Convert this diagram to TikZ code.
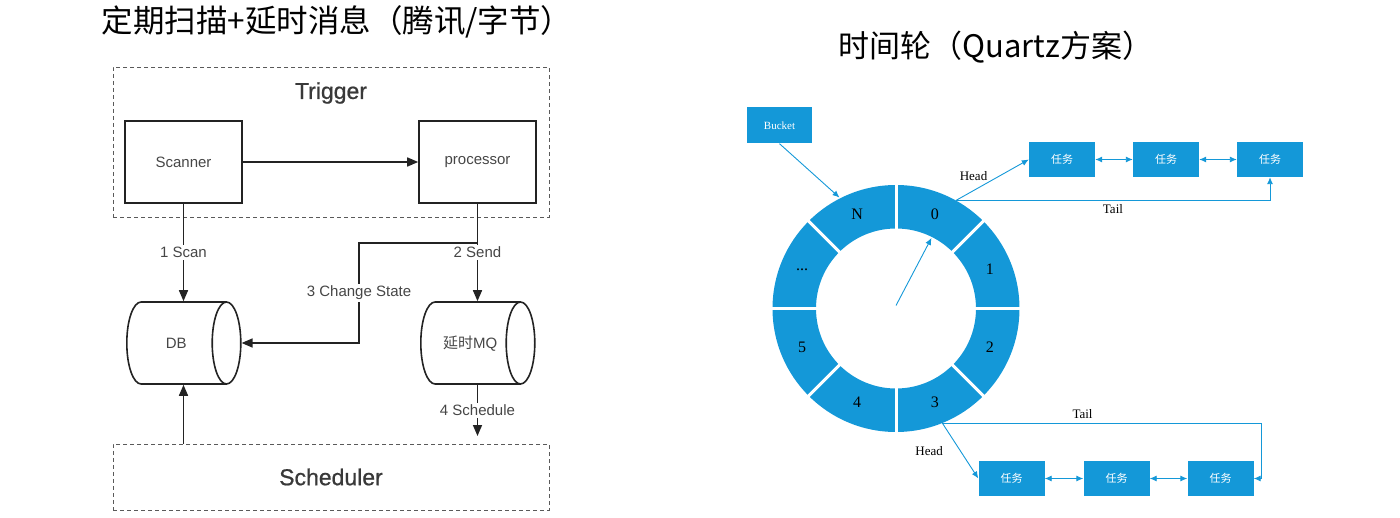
\documentclass[tikz,border=0pt]{standalone}
\usepackage{fontspec}
\setmainfont{Liberation Serif}
\newfontfamily\cjk{Noto Sans CJK SC}
\newfontfamily\hel{Liberation Sans}
\newfontfamily\helmed[FakeBold=0.8]{Liberation Sans}
\usetikzlibrary{arrows.meta,shapes.geometric}
\definecolor{wblue}{RGB}{20,152,216}
\definecolor{ink}{RGB}{35,35,35}
\definecolor{txt}{RGB}{70,70,70}
\tikzset{
  lbox/.style={draw=ink, line width=1.6pt, minimum width=117pt, minimum height=82pt, inner sep=0pt,
    font=\hel\fontsize{15}{18}\selectfont, text=txt},
  dashbox/.style={draw=ink!75, line width=0.8pt, dash pattern=on 4pt off 3pt, inner sep=0pt},
  cyl/.style={cylinder, draw=ink, line width=1.6pt, aspect=2.6, minimum width=82pt, minimum height=114pt,
    inner sep=0pt, text height=11pt, text depth=0pt, font=\hel\fontsize{15}{18}\selectfont, text=txt, anchor=west},
  larrow/.style={draw=ink, line width=1.6pt, -{Triangle[length=11pt,width=9pt]}},
  llabel/.style={fill=white, inner sep=2pt, font=\hel\fontsize{15}{18}\selectfont, text=txt},
  big/.style={font=\helmed\fontsize{23}{27}\selectfont, text=ink!90},
  tbox/.style={fill=wblue, minimum width=66pt, minimum height=35pt, inner sep=0pt, text=white,
    font=\cjk\fontsize{11}{13}\selectfont},
  rline/.style={draw=wblue, line width=0.9pt},
  rarrow/.style={rline, -{Latex[length=7pt,width=6pt]}},
  rdouble/.style={rline, {Latex[length=7pt,width=6pt]}-{Latex[length=7pt,width=6pt]}},
  rlabel/.style={font=\fontsize{13}{15}\selectfont, text=black, inner sep=1pt},
  wlabel/.style={font=\fontsize{16}{18}\selectfont, text=black},
}
\begin{document}
\begin{tikzpicture}[x=1pt,y=-1pt]
\useasboundingbox (0,0) rectangle (1400,518);

% ---------- left diagram ----------
\node[font=\cjk\fontsize{31.5}{34}\selectfont] (ltitle) at (337,22) {定期扫描+延时消息（腾讯/字节）};

\node[dashbox, minimum width=436pt, minimum height=150pt] (trigger) at (331,142) {};
\node[big] (triggertxt) at (331,93) {Trigger};
\node[lbox] (scanner) at (183.5,162) {Scanner};
\node[lbox] (processor) at (477.5,162) {processor};

\node[cyl] (db) at (126,343) {DB};
\node[cyl] (mq) at (420,343) {\cjk 延时\hel MQ};

\node[dashbox, minimum width=436pt, minimum height=66pt, big] (scheduler) at (331,477) {Scheduler};

\draw[larrow] (scanner.east) -- (processor.west);
\draw[larrow] (scanner.south) -- node[llabel] {1 Scan} (scanner.south |- db.north);
\draw[larrow] (processor.south) -- node[llabel] {2 Send} (processor.south |- mq.north);
\coordinate (split) at (477.5,243);
\coordinate (cs) at (359,243);
\draw[larrow] (split) -- (cs) -- node[llabel] {3 Change State} (cs |- db.center) -- (db.east |- db.center);
\coordinate (sch4) at (477.5,436);
\draw[larrow] (mq.south -| processor.south) -- node[llabel] {4 Schedule} (sch4);
\draw[larrow] (scheduler.north -| scanner.south) -- (scanner.south |- db.south);

% ---------- right diagram ----------
\node[font=\cjk\fontsize{31}{34}\selectfont] (rtitle) at (996,47) {时间轮（Quartz方案）};

\begin{scope}[shift={(896,308.5)}, x=1pt, y=1pt]
  \fill[wblue, even odd rule] (0,0) circle (123.5pt) (0,0) circle (80pt);
  \foreach \a in {0,45,...,315} \draw[white, line width=3pt] (\a:78pt) -- (\a:126pt);
  \node[wlabel] (s0) at (67.5:101.5pt) {0};
  \node[wlabel] (s1) at (22.5:101.5pt) {1};
  \node[wlabel] (s2) at (-22.5:101.5pt) {2};
  \node[wlabel] (s3) at (-67.5:101.5pt) {3};
  \node[wlabel] (s4) at (-112.5:101.5pt) {4};
  \node[wlabel] (s5) at (-157.5:101.5pt) {5};
  \node[wlabel] (sd) at (157.5:101.5pt) {...};
  \node[wlabel] (sN) at (112.5:101.5pt) {N};
  \coordinate (hub) at (0,3pt);
  \coordinate (hand) at (63.3:79pt);
  \coordinate (r0) at (61:123.5pt);
  \coordinate (r3) at (-68:123.5pt);
  \coordinate (rN) at (117:124.5pt);
\end{scope}
\draw[rarrow] (hub) -- (hand);

\node[tbox, minimum width=65pt, minimum height=36pt, font=\fontsize{11}{13}\selectfont] (bucket) at (779.5,125.5) {Bucket};
\draw[rarrow] (bucket.south) -- (rN);

\node[tbox] (t1) at (1062,159.5) {任务};
\node[tbox] (t2) at (1166,159.5) {任务};
\node[tbox] (t3) at (1270,159.5) {任务};
\draw[rdouble] (t1.east) -- (t2.west);
\draw[rdouble] (t2.east) -- (t3.west);
\draw[rarrow] (r0) -- node[rlabel, pos=0.45, above left] {Head} (t1.west);
\draw[rarrow] (r0) -| node[rlabel, pos=0.25, below=3pt] {Tail} (t3.south);

\node[tbox] (b1) at (1011.5,478.5) {任务};
\node[tbox] (b2) at (1116.5,478.5) {任务};
\node[tbox] (b3) at (1220.5,478.5) {任务};
\draw[rdouble] (b1.east) -- (b2.west);
\draw[rdouble] (b2.east) -- (b3.west);
\draw[rarrow] (r3) -- node[rlabel, pos=0.5, left=16pt] {Head} (b1.west);
\coordinate (bt) at (1261,478.5);
\draw[rarrow] (r3) -| node[rlabel, pos=0.22, above=3pt] {Tail} (bt) -- (b3.east);
\end{tikzpicture}
\end{document}
